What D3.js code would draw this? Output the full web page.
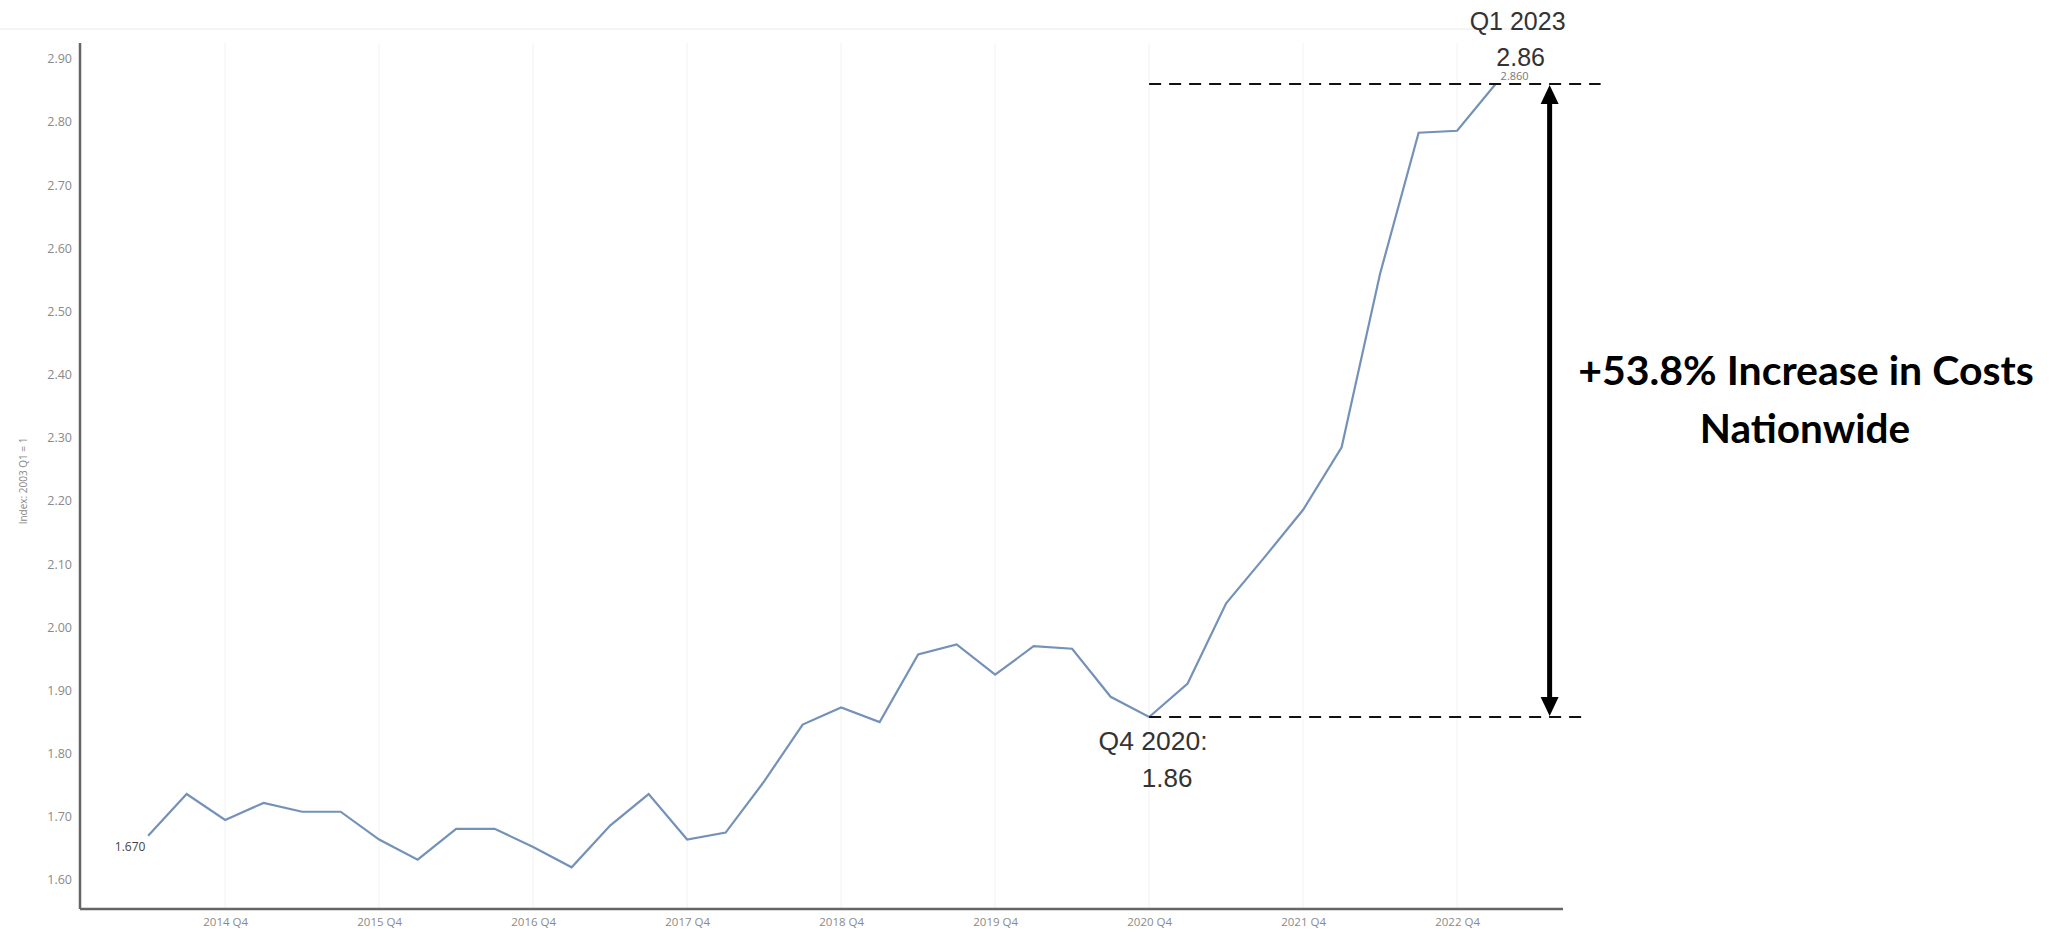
<!DOCTYPE html>
<html>
<head>
<meta charset="utf-8">
<script src="https://cdn.jsdelivr.net/npm/d3@7"></script>
<style>
  html, body { margin: 0; padding: 0; background: #ffffff; }
  svg { display: block; }
</style>
</head>
<body>
<svg id="chart" width="2058" height="933"></svg>
<script>
// ---- data ----
const quarters = [
  "2014 Q2","2014 Q3","2014 Q4",
  "2015 Q1","2015 Q2","2015 Q3","2015 Q4",
  "2016 Q1","2016 Q2","2016 Q3","2016 Q4",
  "2017 Q1","2017 Q2","2017 Q3","2017 Q4",
  "2018 Q1","2018 Q2","2018 Q3","2018 Q4",
  "2019 Q1","2019 Q2","2019 Q3","2019 Q4",
  "2020 Q1","2020 Q2","2020 Q3","2020 Q4",
  "2021 Q1","2021 Q2","2021 Q3","2021 Q4",
  "2022 Q1","2022 Q2","2022 Q3","2022 Q4",
  "2023 Q1"
];
const values = [
  1.670, 1.736, 1.695,
  1.722, 1.708, 1.708, 1.664,
  1.632, 1.681, 1.681, 1.652,
  1.620, 1.686, 1.736, 1.664,
  1.675, 1.756, 1.846, 1.873,
  1.850, 1.957, 1.973, 1.925,
  1.970, 1.966, 1.890, 1.858,
  1.911, 2.038, 2.111, 2.186,
  2.285, 2.560, 2.783, 2.786,
  2.860
];
const yTicks = [1.6,1.7,1.8,1.9,2.0,2.1,2.2,2.3,2.4,2.5,2.6,2.7,2.8,2.9];
const xTickLabels = ["2014 Q4","2015 Q4","2016 Q4","2017 Q4","2018 Q4","2019 Q4","2020 Q4","2021 Q4","2022 Q4"];
const yAxisTitle = "Index: 2003 Q1 = 1";
const lowPoint = { quarter: "2020 Q4", value: 1.858, label1: "Q4 2020:", label2: "1.86" };
const highPoint = { quarter: "2023 Q1", value: 2.860, label1: "Q1 2023", label2: "2.86", small: "2.860" };
const firstLabel = "1.670";
const headline = ["+53.8% Increase in Costs", "Nationwide"];

(function () {
// ---- layout ----
const svg = d3.select("#chart");
const mLeft = 80, mRight = 1563, mTop = 43, mBottom = 909;

const x = d3.scaleLinear().domain([-1.77, 36.75]).range([mLeft, mRight]);
const y = d3.scaleLinear().domain([1.554, 2.925]).range([mBottom, mTop]);
const qx = q => x(quarters.indexOf(q));

// faint top frame line
svg.append("line").attr("x1", 0).attr("x2", mRight).attr("y1", 29).attr("y2", 29)
  .attr("stroke", "#f0f0f0").attr("stroke-width", 1.5);

// vertical gridlines
svg.append("g").selectAll("line").data(xTickLabels).join("line")
  .attr("x1", d => qx(d)).attr("x2", d => qx(d))
  .attr("y1", mTop).attr("y2", mBottom)
  .attr("stroke", "#f5f5f5").attr("stroke-width", 1.2);

// y axis
const yAxis = d3.axisLeft(y).tickValues(yTicks).tickFormat(d3.format(".2f")).tickSize(0).tickPadding(8);
const gy = svg.append("g").attr("transform", `translate(${mLeft},0)`).call(yAxis);
gy.select(".domain").attr("stroke", "#666").attr("stroke-width", 2.5).attr("d", `M0,${mTop}V${mBottom}`);
gy.selectAll("text").attr("font-family", "Open Sans, sans-serif").attr("font-size", 12.5).attr("fill", "#8a8a8a");

// x axis
const xAxis = d3.axisBottom(x).tickValues(xTickLabels.map(d => quarters.indexOf(d)))
  .tickFormat(i => quarters[i]).tickSize(0).tickPadding(9);
const gx = svg.append("g").attr("transform", `translate(0,${mBottom})`).call(xAxis);
gx.select(".domain").attr("stroke", "#666").attr("stroke-width", 2.5).attr("d", `M${mLeft},0H${mRight}`);
gx.selectAll("text").attr("font-family", "Open Sans, sans-serif").attr("font-size", 11.5).attr("fill", "#8a8a8a");

// y axis title
svg.append("text")
  .attr("transform", `translate(27,${(mTop + mBottom) / 2 + 5}) rotate(-90)`)
  .attr("text-anchor", "middle")
  .attr("font-family", "Open Sans, sans-serif").attr("font-size", 10).attr("fill", "#888")
  .text(yAxisTitle);

// line
const line = d3.line().x((d, i) => x(i)).y(d => y(d));
svg.append("path").datum(values)
  .attr("d", line)
  .attr("fill", "none").attr("stroke", "#7492b8").attr("stroke-width", 2.2)
  .attr("stroke-linejoin", "miter");

// first value label
svg.append("text").attr("x", x(0) - 18).attr("y", y(values[0]) + 15)
  .attr("text-anchor", "middle").attr("font-family", "Open Sans, sans-serif")
  .attr("font-size", 12).attr("fill", "#444").text(firstLabel);

// dashed reference lines
const dashStart = qx(lowPoint.quarter);
const arrowX = qx(highPoint.quarter) + 54;
svg.append("line").attr("x1", dashStart).attr("x2", arrowX + 51)
  .attr("y1", y(highPoint.value)).attr("y2", y(highPoint.value))
  .attr("stroke", "#111").attr("stroke-width", 2).attr("stroke-dasharray", "12,8");
svg.append("line").attr("x1", dashStart).attr("x2", arrowX + 36)
  .attr("y1", y(lowPoint.value)).attr("y2", y(lowPoint.value))
  .attr("stroke", "#111").attr("stroke-width", 2).attr("stroke-dasharray", "12,8");

// double-headed arrow
const yTop = y(highPoint.value), yBot = y(lowPoint.value);
const headH = 20, headW = 9;
svg.append("line").attr("x1", arrowX).attr("x2", arrowX)
  .attr("y1", yTop + headH - 2).attr("y2", yBot - headH + 2)
  .attr("stroke", "#000").attr("stroke-width", 5);
svg.append("path")
  .attr("d", `M${arrowX},${yTop + 1}L${arrowX - headW},${yTop + headH}L${arrowX + headW},${yTop + headH}Z`)
  .attr("fill", "#000");
svg.append("path")
  .attr("d", `M${arrowX},${yBot - 1}L${arrowX - headW},${yBot - headH}L${arrowX + headW},${yBot - headH}Z`)
  .attr("fill", "#000");

// high point labels
const hx = qx(highPoint.quarter);
svg.append("text").attr("x", hx + 22).attr("y", 30).attr("text-anchor", "middle")
  .attr("font-family", "Liberation Sans, Arial, sans-serif").attr("font-size", 25).attr("fill", "#333")
  .text(highPoint.label1);
svg.append("text").attr("x", hx + 25).attr("y", 66).attr("text-anchor", "middle")
  .attr("font-family", "Liberation Sans, Arial, sans-serif").attr("font-size", 25).attr("fill", "#333")
  .text(highPoint.label2);
svg.append("text").attr("x", hx + 19).attr("y", y(highPoint.value) - 4).attr("text-anchor", "middle")
  .attr("font-family", "Open Sans, sans-serif").attr("font-size", 11).attr("fill", "#777")
  .text(highPoint.small);

// low point labels
const lx = qx(lowPoint.quarter);
svg.append("text").attr("x", lx + 4).attr("y", 750).attr("text-anchor", "middle")
  .attr("font-family", "Liberation Sans, Arial, sans-serif").attr("font-size", 26.5).attr("fill", "#333")
  .text(lowPoint.label1);
svg.append("text").attr("x", lx + 18).attr("y", 787).attr("text-anchor", "middle")
  .attr("font-family", "Liberation Sans, Arial, sans-serif").attr("font-size", 26).attr("fill", "#333")
  .text(lowPoint.label2);

// headline
svg.append("text").attr("x", 1806).attr("y", 385).attr("text-anchor", "middle")
  .attr("font-family", "Lato, sans-serif").attr("font-weight", "bold").attr("font-size", 41).attr("fill", "#000")
  .text(headline[0]);
svg.append("text").attr("x", 1805).attr("y", 443).attr("text-anchor", "middle")
  .attr("font-family", "Lato, sans-serif").attr("font-weight", "bold").attr("font-size", 40.5).attr("fill", "#000")
  .text(headline[1]);
})();
</script>
</body>
</html>
